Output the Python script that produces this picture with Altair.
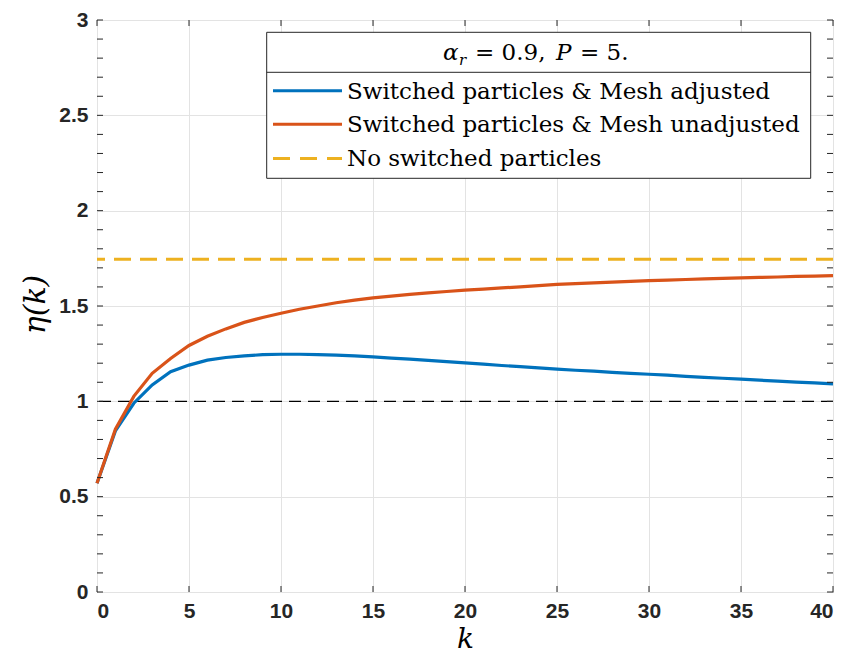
import altair as alt
import pandas as pd

# ---- data ----
k = list(range(41))
adjusted = [0.57, 0.845, 0.99, 1.086, 1.155, 1.19, 1.216, 1.23, 1.238, 1.245,
            1.247, 1.247, 1.245, 1.242, 1.238, 1.233, 1.227, 1.221, 1.215, 1.208,
            1.202, 1.195, 1.188, 1.182, 1.175, 1.169, 1.163, 1.158, 1.152, 1.147,
            1.142, 1.137, 1.131, 1.126, 1.121, 1.116, 1.111, 1.106, 1.101, 1.097,
            1.092]
unadjusted = [0.57, 0.854, 1.026, 1.147, 1.225, 1.293, 1.341, 1.38, 1.414, 1.44,
              1.462, 1.483, 1.50, 1.517, 1.531, 1.543, 1.552, 1.561, 1.569, 1.576,
              1.583, 1.589, 1.595, 1.600, 1.607, 1.613, 1.617, 1.621, 1.625, 1.629,
              1.633, 1.636, 1.639, 1.642, 1.645, 1.647, 1.650, 1.652, 1.655, 1.657,
              1.659]
no_switch = [1.745]
reference = [1.0]
series_names = ["Switched particles & Mesh adjusted",
                "Switched particles & Mesh unadjusted",
                "No switched particles"]
series_colors = ["#0072BD", "#D95319", "#EDB120"]
legend_title_parts = ["α", "r", "= 0.9,", "P", "= 5."]
x_ticks = [0, 5, 10, 15, 20, 25, 30, 35, 40]
y_ticks = [0, 0.5, 1, 1.5, 2, 2.5, 3]
y_minor = [round(i * 0.1, 1) for i in range(31)]

W, H = 736, 572
FRAME = "#262626"
LEG_FONT = "DejaVu Serif"

rows = []
for name, vals in [(series_names[0], adjusted), (series_names[1], unadjusted)]:
    for kk, v in zip(k, vals):
        rows.append({"k": kk, "eta": v, "series": name})
df = pd.DataFrame(rows)

xs = alt.Scale(domain=[0, 40], nice=False, zero=False)
ys = alt.Scale(domain=[0, 3], nice=False, zero=False)

X = alt.X("k:Q", scale=xs, axis=alt.Axis(
    values=x_ticks, title="k", grid=True, ticks=False, domain=False,
    labelFont="Liberation Sans", labelFontWeight="bold", labelFontSize=21,
    labelColor=FRAME, labelPadding=8,
    titleFont="DejaVu Serif", titleFontStyle="italic", titleFontWeight="normal",
    titleFontSize=28, titleColor="black", titleBaseline="alphabetic", titleY=55,
    gridColor="#e3e3e3", gridWidth=1))
Y = alt.Y("eta:Q", scale=ys, axis=alt.Axis(
    values=y_ticks, title="η(k)", grid=True, ticks=False, domain=False,
    labelFont="Liberation Sans", labelFontWeight="bold", labelFontSize=21,
    labelColor=FRAME, labelPadding=9, format="~g",
    titleFont="DejaVu Serif", titleFontStyle="italic", titleFontWeight="normal",
    titleFontSize=30, titleColor="black", titleAngle=-90,
    titleBaseline="middle", titleX=-62, titleY=284,
    gridColor="#e3e3e3", gridWidth=1))

color = alt.Color("series:N", scale=alt.Scale(domain=series_names[:2],
                                               range=series_colors[:2]), legend=None)

ref_line = alt.Chart(pd.DataFrame({"eta": reference})).mark_rule(
    color="black", strokeWidth=1.1, strokeDash=[12, 7]).encode(y=Y)

lines = alt.Chart(df).mark_line(strokeWidth=3.2).encode(
    x=X, y=Y, color=color, detail="series:N")

ns_line = alt.Chart(pd.DataFrame({"eta": no_switch})).mark_rule(
    color=series_colors[2], strokeWidth=3, strokeDash=[17, 9]).encode(y=Y)

# inward ticks (box style)
ytk = pd.DataFrame({"eta": y_minor})
xtk = pd.DataFrame({"k": x_ticks})
tick_l = alt.Chart(ytk).mark_rule(color=FRAME, strokeWidth=1).encode(
    y=Y, x=alt.value(0), x2=alt.value(6))
tick_r = alt.Chart(ytk).mark_rule(color=FRAME, strokeWidth=1).encode(
    y=Y, x=alt.value(W - 6), x2=alt.value(W))
tick_b = alt.Chart(xtk).mark_rule(color=FRAME, strokeWidth=1).encode(
    x=X, y=alt.value(H), y2=alt.value(H - 6))
tick_t = alt.Chart(xtk).mark_rule(color=FRAME, strokeWidth=1).encode(
    x=X, y=alt.value(0), y2=alt.value(6))

# legend box (pixel positions inside the plot area)
one = pd.DataFrame({"a": [0]})
lx0, lx1, ly0, ly1 = 169.7, 713.7, 12.3, 158.3
box = alt.Chart(one).mark_rect(fill="white", stroke=FRAME, strokeWidth=1).encode(
    x=alt.value(lx0), x2=alt.value(lx1), y=alt.value(ly0), y2=alt.value(ly1))
sep = alt.Chart(one).mark_rule(color=FRAME, strokeWidth=1).encode(
    x=alt.value(lx0), x2=alt.value(lx1), y=alt.value(52.3))

# title "α_r = 0.9, P = 5." assembled from pieces
title_y = 40
pieces = [
    (legend_title_parts[0], 346, title_y, 23, "italic"),
    (legend_title_parts[1], 362, title_y + 5, 15, "italic"),
    (legend_title_parts[2], 378, title_y, 23, "normal"),
    (legend_title_parts[3], 459, title_y, 23, "italic"),
    (legend_title_parts[4], 483, title_y, 23, "normal"),
]
legend_layers = [box, sep]
for txt, px, py, fs, st in pieces:
    legend_layers.append(alt.Chart(pd.DataFrame({"t": [txt]})).mark_text(
        font=LEG_FONT, fontSize=fs, fontStyle=st, color="black", align="left",
        baseline="alphabetic").encode(text="t:N", x=alt.value(px), y=alt.value(py)))

row_y = [70.8, 104.3, 138.4]
for i, name in enumerate(series_names):
    dash = [17, 10] if i == 2 else [1, 0]
    legend_layers.append(alt.Chart(one).mark_rule(
        color=series_colors[i], strokeWidth=3, strokeDash=dash).encode(
        x=alt.value(176), x2=alt.value(245), y=alt.value(row_y[i])))
    legend_layers.append(alt.Chart(pd.DataFrame({"t": [name]})).mark_text(
        font=LEG_FONT, fontSize=23, color="black", align="left",
        baseline="middle").encode(text="t:N", x=alt.value(250), y=alt.value(row_y[i] + 1)))

chart = alt.layer(
    ref_line, lines, ns_line, tick_l, tick_r, tick_b, tick_t, *legend_layers
).properties(
    width=W, height=H,
    autosize=alt.AutoSizeParams(type="none"),
    padding={"left": 89, "top": 12, "right": 6, "bottom": 62},
    background="white",
).configure_view(stroke=FRAME, strokeWidth=1)

chart.save("out.html", embed_options={"renderer": "svg", "actions": False})
